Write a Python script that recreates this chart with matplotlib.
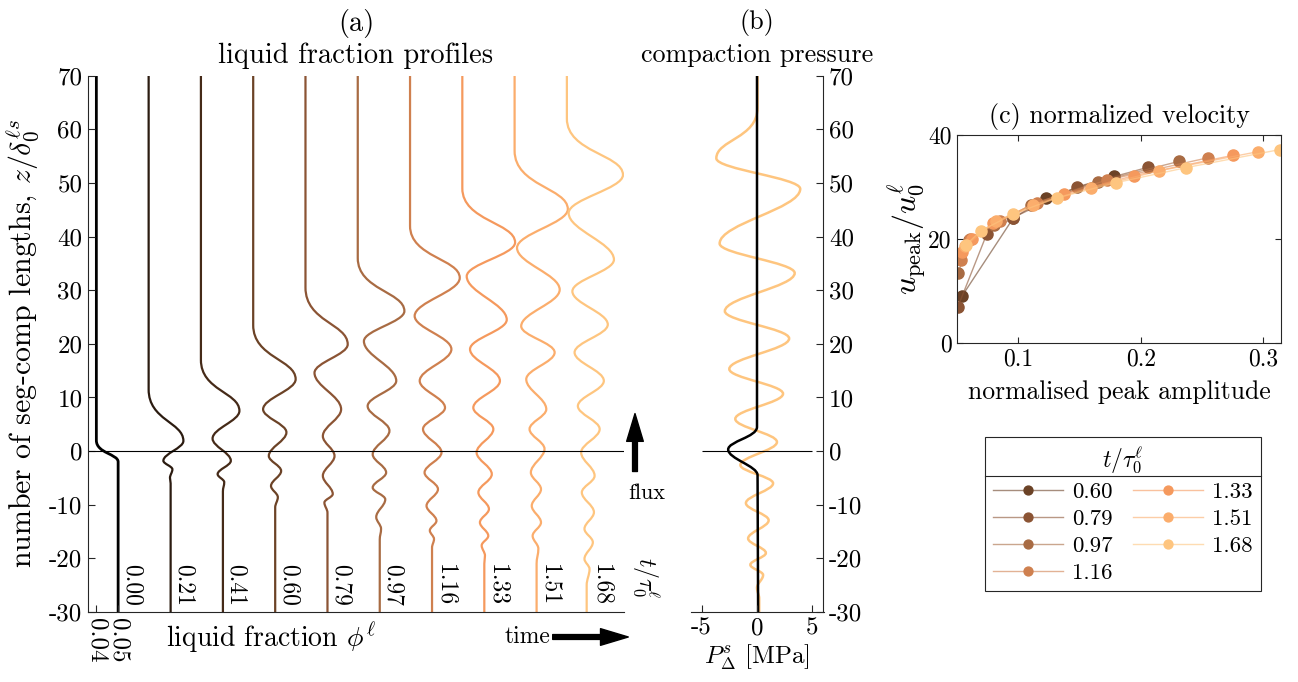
import matplotlib
matplotlib.use("Agg")
import matplotlib.pyplot as plt
from matplotlib.path import Path
from matplotlib.patches import PathPatch
from matplotlib.legend_handler import HandlerTuple
from matplotlib.lines import Line2D

# ---------------- data ----------------
times = ["0.00", "0.21", "0.41", "0.60", "0.79", "0.97", "1.16", "1.33", "1.51", "1.68"]
colors = ["#000000", "#2b1b10", "#452a18", "#6b4226", "#8b5434", "#a86b43",
          "#cf804f", "#f5995d", "#fbad6c", "#fec57f"]

# liquid fraction profiles: extrema (phi, z) of each curve
phi_000 = [0.04, 0.04, 0.0499, 0.0499]
z_000 = [70, 2.0, -2.0, -30]
phi_021 = [0.04, 0.04, 0.0558, 0.0467, 0.0508, 0.0497, 0.0500, 0.0500]
z_021 = [70, 11.5, 1.9, -1.8, -3.4, -5.0, -6.0, -30]
phi_041 = [0.04, 0.04, 0.0575, 0.0453, 0.0536, 0.0476, 0.0506, 0.0500, 0.0500]
z_041 = [70, 17, 7.5, 2.35, -1.8, -4.3, -5.8, -7.5, -30]
phi_060 = [0.04, 0.04, 0.0593, 0.0445, 0.0551, 0.0471, 0.0527, 0.0481, 0.0512, 0.05, 0.05]
z_060 = [70, 23.5, 13.4, 7.8, 3.5, -0.9, -3.7, -6.5, -8.6, -10.5, -30]
phi_079 = [0.04, 0.04, 0.0592, 0.0441, 0.0562, 0.0479, 0.0532, 0.0479, 0.0524, 0.0486, 0.05, 0.05]
z_079 = [70, 30.5, 19.9, 14.6, 7.8, 2.8, -0.9, -4.6, -8.0, -9.6, -11.5, -30]
phi_097 = [0.04, 0.04, 0.0612, 0.0428, 0.0575, 0.0445, 0.0544, 0.0468, 0.0529, 0.0468,
           0.0525, 0.0484, 0.0506, 0.05, 0.05]
z_097 = [70, 36, 26.1, 20.5, 13.1, 8.4, 3.8, -0.6, -4.0, -6.8, -9.0, -12.3, -14.5, -16.5, -30]
phi_116 = [0.04, 0.04, 0.0626, 0.0421, 0.0588, 0.0444, 0.0559, 0.0459, 0.0543, 0.0466,
           0.0527, 0.0475, 0.0520, 0.0490, 0.0509, 0.05, 0.05]
z_116 = [70, 42, 32.3, 25.2, 19.0, 13.1, 8.1, 4.1, -0.25, -4.0, -7.1, -10.2, -13.0, -14.8,
         -16.4, -18, -30]
phi_133 = [0.04, 0.04, 0.0640, 0.0420, 0.0602, 0.0435, 0.0571, 0.0450, 0.0541, 0.0465,
           0.0534, 0.0473, 0.0521, 0.0480, 0.0518, 0.0488, 0.0503, 0.05, 0.05]
z_133 = [70, 49, 38.9, 32.6, 24.5, 19.0, 13.1, 8.1, 4.1, -0.25, -4.3, -7.7, -10.8, -13.3,
         -15.8, -17.6, -19.5, -21, -30]
phi_151 = [0.04, 0.04, 0.0642, 0.0411, 0.0605, 0.0430, 0.0582, 0.0453, 0.0544, 0.0468,
           0.0536, 0.0474, 0.0520, 0.0478, 0.0520, 0.0482, 0.0508, 0.05, 0.05]
z_151 = [70, 56, 45.1, 37.9, 30.1, 23.3, 18.4, 13.4, 7.8, 4.1, 0.4, -4.0, -7.1, -10.2,
         -13.3, -15.8, -18.2, -21, -30]
phi_168 = [0.04, 0.04, 0.0655, 0.0408, 0.0614, 0.0425, 0.0586, 0.0435, 0.0568, 0.0450,
           0.0549, 0.0465, 0.0526, 0.0468, 0.0523, 0.0480, 0.0518, 0.0480, 0.0503, 0.049, 0.049]
z_168 = [70, 62, 51.5, 44.4, 35.7, 29.8, 23.6, 18.4, 13.1, 8.4, 4.1, -0.25, -4.6, -7.7,
         -11.4, -14.5, -17.0, -20.1, -22.0, -25, -30]

profiles_phi = [phi_000, phi_021, phi_041, phi_060, phi_079, phi_097, phi_116, phi_133, phi_151, phi_168]
profiles_z = [z_000, z_021, z_041, z_060, z_079, z_097, z_116, z_133, z_151, z_168]
phi_ticks = [0.04, 0.05]
phi_ticklabels = ["0.04", "0.05"]

# compaction pressure profiles (MPa), t = 0.00 and t = 1.68
p_000 = [0.0, 0.0, -2.6, 0.05, 0.1]
pz_000 = [70, 4.5, 0.3, -4.5, -30]
p_168 = [0.05, 0.05, -3.67, 3.9, -3.37, 3.4, -2.9, 2.9, -2.5, 2.35, -1.96, 1.8, -1.5,
         1.45, -1.0, 1.05, -0.8, 0.8, -0.6, 0.55, 0.0, 0.2, 0.2]
pz_168 = [70, 64, 54.6, 48.9, 38.7, 33.2, 26.1, 21.0, 15.3, 10.7, 6.0, 1.7, -2.6, -6.0,
          -9.7, -12.9, -16.3, -19.0, -21.2, -23.1, -25.5, -27.5, -30]
p_ticks = [-5, 0, 5]
p_ticklabels = ["-5", "0", "5"]
z_ticks = [-30, -20, -10, 0, 10, 20, 30, 40, 50, 60, 70]
z_ticklabels = ["-30", "-20", "-10", "0", "10", "20", "30", "40", "50", "60", "70"]

# normalized velocity vs peak amplitude
amp_060 = [0.1781, 0.1223, 0.0959, 0.0541]
vel_060 = [32.2, 27.8, 24.0, 9.0]
amp_079 = [0.2061, 0.1476, 0.0959, 0.0742, 0.0505]
vel_079 = [33.8, 30.0, 24.1, 20.9, 6.8]
amp_097 = [0.2309, 0.1650, 0.1100, 0.0800, 0.0600, 0.0510]
vel_097 = [34.9, 31.0, 26.5, 22.6, 19.7, 13.5]
amp_116 = [0.2546, 0.1721, 0.1150, 0.0850, 0.0605, 0.0532]
vel_116 = [35.6, 31.3, 27.0, 23.5, 19.9, 15.9]
amp_133 = [0.2755, 0.1947, 0.1376, 0.0796, 0.0620, 0.0540]
vel_133 = [36.1, 32.2, 28.6, 23.1, 20.0, 17.5]
amp_151 = [0.2959, 0.2151, 0.1590, 0.1120, 0.0820, 0.0565]
vel_151 = [36.8, 33.1, 29.8, 26.6, 23.4, 18.6]
amp_168 = [0.3136, 0.2366, 0.1795, 0.1318, 0.0959, 0.0693, 0.0575]
vel_168 = [37.2, 33.7, 30.8, 27.9, 24.8, 21.5, 18.9]
vel_times = ["0.60", "0.79", "0.97", "1.16", "1.33", "1.51", "1.68"]
vel_amp = [amp_060, amp_079, amp_097, amp_116, amp_133, amp_151, amp_168]
vel_u = [vel_060, vel_079, vel_097, vel_116, vel_133, vel_151, vel_168]

# ---------------- style ----------------
plt.rcParams["font.family"] = "cmr10"
plt.rcParams["mathtext.fontset"] = "cm"
plt.rcParams["axes.unicode_minus"] = False
plt.rcParams["font.size"] = 18
axc = "#262626"


def smooth_path(xs, zs, c=0.363, c_front=0.6):
    # cubic segments with vertical tangents at each extremum,
    # the first bend (leaving the flat top) starts more gently
    verts = [(xs[0], zs[0])]
    codes = [Path.MOVETO]
    for k in range(len(xs) - 1):
        x1, z1, x2, z2 = xs[k], zs[k], xs[k + 1], zs[k + 1]
        d = z1 - z2
        c1 = c_front if k == 1 else c
        verts += [(x1, z1 - c1 * d), (x2, z2 + c * d), (x2, z2)]
        codes += [Path.CURVE4] * 3
    return Path(verts, codes)


W, H = 1298, 682
fig = plt.figure(figsize=(W / 100, H / 100), dpi=100)

# ---------------- (a) ----------------
ax = fig.add_axes([88 / W, 1 - 612 / H, 536 / W, 536.3 / H])
shift = 0.02377
for i in range(len(times)):
    xs = [p + i * shift for p in profiles_phi[i]]
    lw = 2.0 if i == 0 else 1.6
    ax.add_patch(PathPatch(smooth_path(xs, profiles_z[i]), fill=False,
                           edgecolor=colors[i], lw=lw, capstyle="butt"))
    ax.text(0.05 + i * shift + 0.0009, -21, times[i], rotation=-90,
            ha="left", va="top", fontsize=17)
ax.axhline(0, color="k", lw=0.8)
ax.set_xlim(0.0362, 0.2799)
ax.set_ylim(-30, 70)
ax.spines[["top", "right"]].set_visible(False)
for s in ax.spines.values():
    s.set_color(axc)
ax.set_yticks(z_ticks, z_ticklabels)
ax.set_xticks(phi_ticks, phi_ticklabels, rotation=-90)
ax.tick_params(direction="in", length=5, width=0.8, color=axc, pad=4)
ax.set_ylabel(r"number of seg-comp lengths, $z/\delta_0^{\ell s}$", fontsize=21.5,
              labelpad=6)
ax.set_title("(a)\nliquid fraction profiles", pad=9, linespacing=1.25, fontsize=20.5)
ax.text(0.341, -0.0485, r"liquid fraction $\phi^\ell$", transform=ax.transAxes,
        ha="center", va="center", fontsize=20)
ax.text(0.819, -0.0466, "time", transform=ax.transAxes, ha="center", va="center",
        fontsize=17)
ax.annotate("", xy=(1.008, -0.0466), xytext=(0.867, -0.0466),
            xycoords="axes fraction", annotation_clip=False,
            arrowprops=dict(facecolor="k", edgecolor="k", width=3.5, headwidth=12,
                            headlength=20, shrink=0))
ax.annotate("", xy=(1.0205, 0.37), xytext=(1.0205, 0.262),
            xycoords="axes fraction", annotation_clip=False,
            arrowprops=dict(facecolor="k", edgecolor="k", width=3.5, headwidth=12,
                            headlength=20, shrink=0))
ax.text(1.043, 0.222, "flux", transform=ax.transAxes, ha="center", va="center",
        fontsize=16)
ax.text(1.013, 0.102, r"$t/\tau_0^\ell$", transform=ax.transAxes, rotation=-90,
        ha="left", va="top", fontsize=17)

# ---------------- (b) ----------------
bx = fig.add_axes([690.5 / W, 1 - 612 / H, 133 / W, 536.3 / H])
bx.hlines(0, -5, 5, color="k", lw=0.8)
bx.add_patch(PathPatch(smooth_path(p_168, pz_168), fill=False, edgecolor=colors[-1], lw=1.8))
bx.add_patch(PathPatch(smooth_path(p_000, pz_000, c_front=0.45), fill=False,
                       edgecolor=colors[0], lw=1.8))
bx.set_xlim(-6, 6)
bx.set_ylim(-30, 70)
bx.spines[["top", "left"]].set_visible(False)
for s in bx.spines.values():
    s.set_color(axc)
bx.yaxis.tick_right()
bx.set_yticks(z_ticks, z_ticklabels)
bx.set_xticks(p_ticks, p_ticklabels)
bx.tick_params(direction="in", length=5, width=0.8, color=axc, pad=4)
bx.set_xlabel(r"$P^s_\Delta$ [MPa]", labelpad=2)
bx.set_title("(b)\ncompaction pressure", pad=10, linespacing=1.4, fontsize=18.8)

# ---------------- (c) ----------------
cx = fig.add_axes([957.3 / W, 1 - 342.7 / H, 323.4 / W, 207.7 / H])
handles = []
for k in range(len(vel_times)):
    col = colors[k + 3]
    ln, = cx.plot(vel_amp[k], vel_u[k], "-", color=col, lw=1.0, alpha=0.6)
    mk, = cx.plot(vel_amp[k], vel_u[k], "o", color=col, ms=8, mec=col, ls="none")
    handles.append((ln, mk))
cx.set_xlim(0.0502, 0.3142)
cx.set_ylim(0, 40)
cx.set_xticks([0.1, 0.2, 0.3], ["0.1", "0.2", "0.3"])
cx.set_yticks([0, 20, 40], ["0", "20", "40"])
cx.tick_params(direction="in", length=4, width=0.8, color=axc, top=True, right=True,
               labelsize=17, pad=4)
for s in cx.spines.values():
    s.set_color(axc)
cx.set_title("(c) normalized velocity", pad=9, fontsize=18.7)
cx.set_xlabel("normalised peak amplitude", labelpad=7, fontsize=18.5)
cx.set_ylabel(r"$u_\mathrm{peak}/u_0^\ell$", labelpad=0, fontsize=23)

leg = cx.legend(handles, vel_times, handler_map={tuple: HandlerTuple(ndivide=1)},
                ncol=2, loc="upper left", bbox_to_anchor=(984.7 / W, 1 - 436.7 / H),
                bbox_transform=fig.transFigure, borderaxespad=0, fontsize=16.5,
                title=r"$t/\tau_0^\ell$", title_fontsize=17, fancybox=False,
                framealpha=1, edgecolor=axc, handlelength=3.05, handletextpad=0.4,
                columnspacing=0.9, labelspacing=0.3, borderpad=0.35, markerscale=0.8)
leg.get_frame().set_linewidth(0.8)

fig.canvas.draw()
lb = leg.get_window_extent()
eb = leg.get_texts()[0].get_window_extent()
ysep = eb.y1 + 7
fig.add_artist(Line2D([lb.x0 / W, lb.x1 / W], [ysep / H, ysep / H], color=axc, lw=0.8))

fig.savefig("out.png", dpi=100)
